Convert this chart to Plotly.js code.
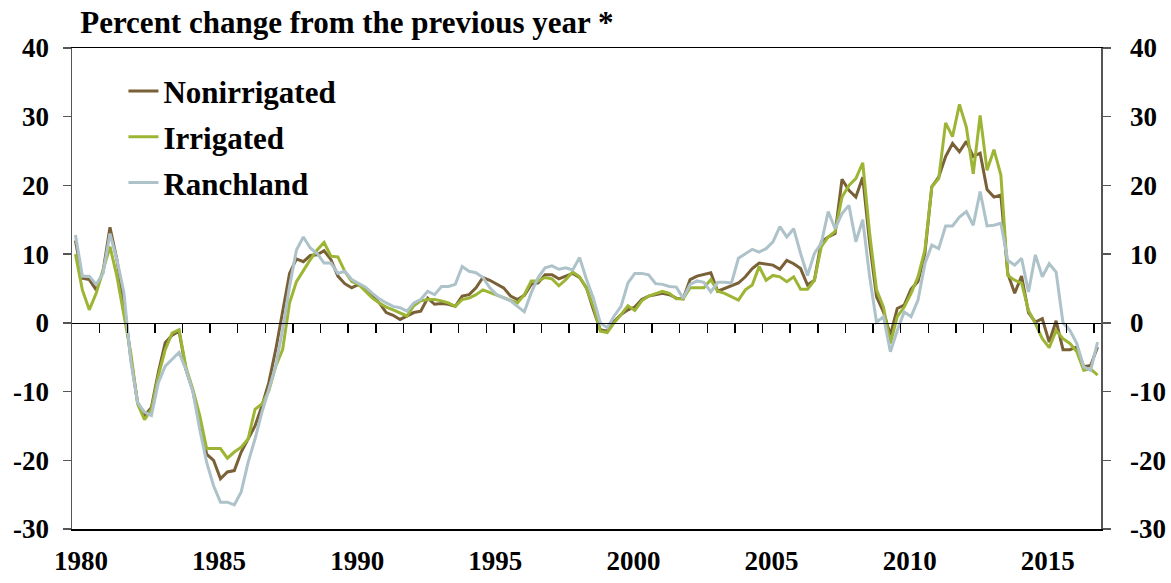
<!DOCTYPE html>
<html>
<head>
<meta charset="utf-8">
<script src="https://cdn.plot.ly/plotly-3.0.1.min.js"></script>
<style>html,body{margin:0;padding:0;background:#fff;}#chart{width:1171px;height:583px;}</style>
</head>
<body>
<div id="chart"></div>
<script>
// Quarterly series, 1980 Q1 .. 2017 Q1
const startYear = 1980;
const yearLabels = ['1980','1985','1990','1995','2000','2005','2010','2015'];
const yTicks = [-30,-20,-10,0,10,20,30,40];
const yTickLabels = ['-30','-20','-10','0','10','20','30','40'];

const nonirrigated = [
 12.0,6.5,6.3,4.8, 7.5,13.9,9.2,3.0, -5.0,-11.6,-13.5,-12.3, -7.2,-2.9,-1.8,-1.2,
 -6.8,-9.9,-14.5,-19.1, -20.0,-22.7,-21.7,-21.5, -18.8,-16.9,-15.0,-12.1, -8.7,-3.9,1.9,7.2,
 9.3,8.9,9.8,9.9, 10.5,9.2,6.8,5.7, 5.1,5.6,4.8,3.8, 2.9,1.5,1.1,0.5,
 1.0,1.5,1.7,3.6, 2.7,2.8,2.7,2.4, 3.9,4.1,5.1,6.6, 6.2,5.6,5.1,3.9,
 3.4,4.0,5.6,5.8, 7.0,7.0,6.4,6.8, 7.2,6.6,5.1,1.9, -1.0,-1.2,0.2,1.2,
 1.9,2.3,3.4,3.9, 4.1,4.3,4.1,3.6, 3.5,6.3,6.8,7.0, 7.3,4.6,5.0,5.3,
 5.8,6.7,7.9,8.7, 8.5,8.4,7.8,9.1, 8.6,7.9,5.5,6.2, 11.8,12.5,13.0,20.9,
 19.3,18.3,21.2,11.6, 3.8,1.6,-1.8,2.1, 2.6,4.9,6.0,10.1, 19.8,21.2,24.2,26.1,
 24.9,26.4,24.2,24.7, 19.4,18.3,18.6,7.2, 4.3,6.8,1.5,0.1, 0.6,-2.8,0.3,-3.9,
 -3.9,-3.5,-6.4,-6.2, -3.5
];
const irrigated = [
 10.0,4.8,1.9,4.3, 7.7,11.1,6.8,1.0, -4.3,-11.8,-14.1,-12.6, -7.7,-3.9,-1.5,-1.0,
 -6.5,-9.7,-13.5,-18.3, -18.3,-18.3,-19.7,-18.8, -18.1,-16.9,-12.6,-11.8, -9.9,-6.3,-3.9,2.9,
 6.0,7.7,9.2,10.6, 11.7,9.7,9.6,7.5, 6.0,5.6,4.6,3.6, 2.9,2.3,1.9,1.5,
 1.0,2.5,3.2,3.4, 3.4,3.2,2.9,2.4, 3.4,3.6,4.1,4.8, 4.4,4.1,3.6,3.2,
 2.9,4.1,6.1,6.1, 6.6,6.4,5.4,6.3, 7.4,6.7,5.0,2.4, -1.2,-1.4,0.0,1.2,
 2.5,1.8,3.2,3.9, 4.3,4.6,4.3,3.5, 3.5,5.1,5.1,5.1, 6.3,4.6,4.3,3.8,
 3.3,4.8,5.5,8.2, 6.2,6.9,6.7,6.0, 6.7,4.9,4.9,6.2, 11.1,12.5,13.3,18.3,
 20.0,21.0,23.3,13.0, 4.8,2.3,-3.0,0.9, 2.3,4.3,6.7,10.6, 19.8,21.0,29.1,27.1,
 31.8,28.5,21.7,30.2, 22.2,25.2,21.5,6.9, 6.2,5.8,1.8,-0.1, -2.3,-3.6,-1.1,-2.3,
 -3.0,-4.2,-6.9,-6.7, -7.6
];
const ranchland = [
 12.8,6.8,6.8,5.6, 7.2,13.0,9.2,4.5, -5.5,-11.6,-13.0,-13.5, -8.7,-6.3,-5.3,-4.3,
 -6.8,-10.0,-15.5,-20.3, -23.7,-26.1,-26.1,-26.5, -24.6,-20.3,-16.9,-13.0, -9.7,-6.3,-1.0,5.3,
 10.6,12.5,10.9,10.1, 8.7,8.7,7.2,7.5, 6.3,5.7,5.2,4.3, 3.5,2.9,2.4,2.2,
 1.7,2.9,3.4,4.6, 4.1,5.3,5.3,5.6, 8.2,7.5,7.3,6.6, 5.1,4.1,3.6,3.2,
 2.4,1.6,4.4,6.6, 8.0,8.3,7.8,8.0, 7.7,9.5,6.3,3.6, 0.0,-0.7,1.0,2.4,
 5.8,7.2,7.2,7.0, 5.7,5.6,5.3,5.2, 3.6,5.6,6.1,5.9, 4.5,5.9,5.9,5.8,
 9.4,10.1,10.7,10.3, 10.8,11.8,14.0,12.5, 13.7,10.1,6.9,10.1, 11.6,16.2,13.7,15.9,
 17.1,11.8,15.0,6.7, 0.1,0.9,-4.2,-1.1, 1.6,0.9,3.3,8.6, 11.3,10.8,14.1,14.1,
 15.4,16.2,14.2,19.1, 14.1,14.2,14.5,9.1, 8.4,9.4,4.5,9.9, 6.7,8.6,7.4,0.0,
 -1.1,-3.0,-6.4,-6.9, -2.8
];

// quarter positions (category axis)
const quarters = nonirrigated.map((_, i) => startYear + i / 4);
const labelPos = yearLabels.map(y => Number(y) + 0.2);
const yearTicks = [];
for (let y = startYear; y < startYear + 37; y++) yearTicks.push(y + 0.875);

const serif = 'Liberation Serif, Times New Roman, serif';
const lineW = 3;

const traces = [
  {x: quarters, y: ranchland, name: 'Ranchland', type: 'scatter', mode: 'lines',
   line: {color: '#AEC2CA', width: lineW}, legendrank: 3, legendgroup: 'c', xaxis: 'x2'},
  {x: quarters, y: nonirrigated, name: 'Nonirrigated', type: 'scatter', mode: 'lines',
   line: {color: '#7A6037', width: lineW}, legendrank: 1, legendgroup: 'a'},
  {x: quarters, y: irrigated, name: 'Irrigated', type: 'scatter', mode: 'lines',
   line: {color: '#9DB534', width: lineW}, legendrank: 2, legendgroup: 'b'},
  {x: [quarters[0]], y: [null], showlegend: false, hoverinfo: 'skip', yaxis: 'y2', type: 'scatter', mode: 'lines'}
];

const xr = [startYear - 0.125, startYear + (nonirrigated.length - 1) / 4 + 0.125];
const tickFont = {family: serif, size: 27, color: '#000', weight: 'bold'};

const layout = {
  width: 1171, height: 583,
  margin: {l: 71.5, r: 69.5, t: 48, b: 54},
  paper_bgcolor: '#fff', plot_bgcolor: '#fff',
  showlegend: true,
  title: {text: 'Percent change from the previous year *', x: 0.008, xref: 'paper', xanchor: 'left',
          y: 0.962, yanchor: 'middle', yref: 'container',
          font: {family: serif, size: 31, color: '#000', weight: 'bold'}},
  xaxis: {range: xr, tickmode: 'array', tickvals: labelPos, ticktext: yearLabels,
          showgrid: false, zeroline: false, showline: true, mirror: true, linecolor: '#000', linewidth: 1.5,
          ticks: '', tickfont: tickFont, ticklabelstandoff: 7},
  xaxis2: {range: xr, overlaying: 'x', anchor: 'free', position: 30/70, side: 'bottom',
           tickmode: 'array', tickvals: yearTicks, showticklabels: false, ticks: 'outside', ticklen: 9,
           tickwidth: 1.5, tickcolor: '#000', showline: true, linecolor: '#000', linewidth: 1.5,
           showgrid: false, zeroline: false},
  yaxis: {range: [-30, 40], tickmode: 'array', tickvals: yTicks, ticktext: yTickLabels,
          showgrid: false, zeroline: false,
          showline: true, linecolor: '#555', linewidth: 1.5, ticks: 'outside', ticklen: 8, tickwidth: 1.5,
          tickcolor: '#555', tickfont: tickFont, ticklabelstandoff: 8},
  yaxis2: {range: [-30, 40], overlaying: 'y', side: 'right', tickmode: 'array', tickvals: yTicks,
           ticktext: yTickLabels,
           showgrid: false, zeroline: false, showline: true, linecolor: '#555', linewidth: 1.5,
           ticks: 'outside', ticklen: 8, tickwidth: 1.5, tickcolor: '#555', tickfont: tickFont,
           ticklabelstandoff: 14},
  legend: {x: 0.05, y: 0.966, xanchor: 'left', yanchor: 'top', traceorder: 'grouped', tracegroupgap: 2.5,
           bgcolor: 'rgba(0,0,0,0)', font: {family: serif, size: 31, color: '#000', weight: 'bold'}}
};

Plotly.newPlot('chart', traces, layout, {displayModeBar: false, staticPlot: true});
</script>
</body>
</html>
